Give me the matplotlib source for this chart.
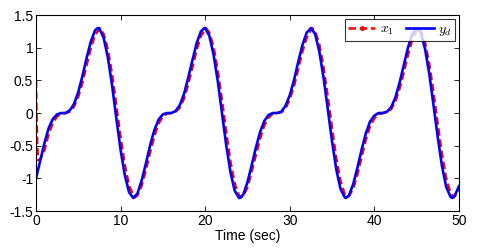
import numpy as np
import matplotlib
matplotlib.use("Agg")
import matplotlib.pyplot as plt
from matplotlib.lines import Line2D

plt.rcParams['font.family'] = ['Liberation Sans', 'DejaVu Sans']
plt.rcParams['mathtext.fontset'] = 'cm'

# reference trajectory y_d, sampled every 0.5 s
t_yd = np.arange(0, 50.01, 0.5)
y_d = [-1.00, -0.73, -0.46, -0.23, -0.09, -0.02, 0.00, 0.00, 0.04, 0.14,
       0.32, 0.57, 0.85, 1.10, 1.27, 1.29, 1.15, 0.85, 0.42, -0.08,
       -0.56, -0.95, -1.21, -1.30, -1.23, -1.03, -0.77, -0.49, -0.26, -0.10,
       -0.02, 0.00, 0.00, 0.03, 0.12, 0.29, 0.54, 0.81, 1.07, 1.25,
       1.30, 1.18, 0.89, 0.48, -0.01, -0.50, -0.91, -1.19, -1.30, -1.25,
       -1.06, -0.80, -0.53, -0.29, -0.12, -0.03, 0.00, 0.00, 0.02, 0.11,
       0.27, 0.50, 0.78, 1.04, 1.23, 1.30, 1.21, 0.94, 0.54, 0.06,
       -0.43, -0.86, -1.16, -1.29, -1.26, -1.09, -0.84, -0.56, -0.31, -0.13,
       -0.04, 0.00, 0.00, 0.02, 0.09, 0.24, 0.47, 0.74, 1.01, 1.21,
       1.30, 1.23, 0.98, 0.60, 0.12, -0.37, -0.81, -1.13, -1.28, -1.27,
       -1.12]
# extra readings at the peaks and troughs of y_d
t_yd_ext = [7.33, 11.52, 19.9, 24.09, 36.65, 49.22]
y_d_ext = [1.30, -1.30, 1.30, -1.30, -1.30, -1.30]

# state x_1 (initial transient, then every 0.5 s from t=1)
t_x1 = np.concatenate([[0, 0.05, 0.15, 0.25, 0.5], np.arange(1, 50.01, 0.5)])
x_1 = [0.50, 0.10, -0.50, -0.72, -0.71,
       -0.57, -0.32, -0.15, -0.05, -0.01, 0.00, 0.02, 0.10,
       0.25, 0.47, 0.74, 1.00, 1.20, 1.28, 1.21, 0.97, 0.59, 0.12,
       -0.37, -0.79, -1.11, -1.26, -1.26, -1.11, -0.87, -0.60, -0.35, -0.16,
       -0.05, -0.01, 0.00, 0.02, 0.08, 0.22, 0.44, 0.70, 0.97, 1.18,
       1.28, 1.23, 1.01, 0.64, 0.19, -0.30, -0.75, -1.08, -1.26, -1.27,
       -1.14, -0.90, -0.64, -0.39, -0.19, -0.07, -0.01, 0.00, 0.01, 0.07,
       0.21, 0.41, 0.67, 0.94, 1.15, 1.27, 1.25, 1.05, 0.70, 0.25,
       -0.23, -0.69, -1.04, -1.24, -1.27, -1.16, -0.94, -0.67, -0.41, -0.20,
       -0.08, -0.02, 0.00, 0.01, 0.06, 0.18, 0.38, 0.63, 0.90, 1.13,
       1.26, 1.26, 1.08, 0.75, 0.31, -0.17, -0.63, -1.00, -1.22, -1.27,
       -1.18]
t_x1_ext = [7.53, 11.72, 20.1, 24.29, 32.66, 36.85, 45.23, 49.42]
x_1_ext = [1.30, -1.29, 1.30, -1.29, 1.30, -1.29, 1.30, -1.29]


def merged(t, v, t_ext, v_ext):
    tt = np.concatenate([t, t_ext])
    vv = np.concatenate([v, v_ext])
    order = np.argsort(tt)
    return tt[order], vv[order]


ty, yy = merged(t_yd, y_d, t_yd_ext, y_d_ext)
tx, xx = merged(t_x1, x_1, t_x1_ext, x_1_ext)

fig = plt.figure(figsize=(4.85, 2.48), dpi=100)
ax = fig.add_axes([0.0742, 0.149, 0.872, 0.7905])

ax.plot(tx, xx, color='red', linestyle='--', linewidth=1.8, dashes=(3, 1.5))
ax.plot(ty, yy, color='blue', linewidth=1.9, solid_joinstyle='round')

ax.set_xlim(0, 50)
ax.set_ylim(-1.5, 1.5)
ax.set_xticks([0, 10, 20, 30, 40, 50])
ax.set_yticks([-1.5, -1, -0.5, 0, 0.5, 1, 1.5])
ax.set_yticklabels(['-1.5', '-1', '-0.5', '0', '0.5', '1', '1.5'])
ax.tick_params(direction='in', top=True, right=True, length=3.5, width=0.6,
               labelsize=10, pad=2)
for s in ax.spines.values():
    s.set_linewidth(0.8)
ax.set_xlabel('Time (sec)', fontsize=10, labelpad=1)

handles = [Line2D([], [], color='red', linestyle='--', linewidth=1.8, dashes=(3, 1.5),
                  marker='.', markersize=5),
           Line2D([], [], color='blue', linewidth=1.9)]
leg = ax.legend(handles, ['$x_1$', '$y_d$'], loc='upper right', ncol=2,
                fontsize=10, frameon=True, fancybox=False, numpoints=1,
                borderaxespad=0.3, handlelength=2.0, handletextpad=0.3,
                columnspacing=0.9, borderpad=0.2)
leg.get_frame().set_edgecolor('black')
leg.get_frame().set_linewidth(0.8)

fig.savefig('out.png', dpi=100)
